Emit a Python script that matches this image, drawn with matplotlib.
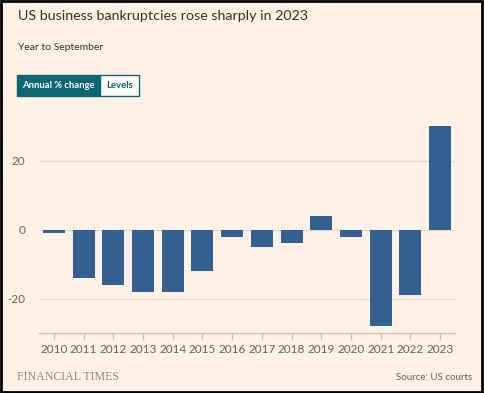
import matplotlib.pyplot as plt
from matplotlib.patches import Rectangle

# data
years = ["2010", "2011", "2012", "2013", "2014", "2015", "2016",
         "2017", "2018", "2019", "2020", "2021", "2022", "2023"]
change = [-1, -14, -16, -18, -18, -12, -2, -5, -4, 4, -2, -28, -19, 30]
yticks = [-20, 0, 20]

plt.rcParams["font.family"] = ["Lato", "DejaVu Sans"]

bg = "#fff1e5"
bar_color = "#336090"
teal = "#0d6670"
text_grey = "#66605c"

fig = plt.figure(figsize=(4.84, 3.93), dpi=100, facecolor=bg)
W, H = 484, 393

def fx(px):
    return px / W

def fy(py):
    return 1 - py / H

ax = fig.add_axes([fx(39), fy(333), fx(455) - fx(39), fy(109) - fy(333)])
ax.set_facecolor(bg)
x = range(len(years))
ax.bar(x, change, width=0.74, color=bar_color, zorder=3)
ax.set_xlim(-0.5, len(years) - 0.5)
ax.set_ylim(-30, 35)
ax.set_yticks(yticks)
ax.set_yticklabels([str(v) for v in yticks])
ax.set_xticks(list(x))
ax.set_xticklabels(years)
for s in ["top", "right", "left"]:
    ax.spines[s].set_visible(False)
ax.spines["bottom"].set_color("#ccc1b7")
ax.spines["bottom"].set_linewidth(1)
ax.tick_params(axis="x", colors="#ccc1b7", length=5, width=1, labelcolor=text_grey,
               labelsize=8.5, pad=3)
ax.tick_params(axis="y", length=0, labelcolor=text_grey, labelsize=8.5, pad=10)
ax.grid(axis="y", color="#e2d9cf", linewidth=1, zorder=0)

# header
fig.text(fx(18), fy(16), "US business bankruptcies rose sharply in 2023",
         fontsize=10.3, color="#33302e", va="center", ha="left")
fig.text(fx(18), fy(48), "Year to September", fontsize=7.5,
         color="#33302e", va="center", ha="left")

# toggle buttons
fig.patches.append(Rectangle((fx(17), fy(96)), fx(100) - fx(17), fy(75) - fy(96),
                             transform=fig.transFigure, facecolor=teal,
                             edgecolor=teal, linewidth=1))
fig.patches.append(Rectangle((fx(100), fy(96)), fx(139) - fx(100), fy(75) - fy(96),
                             transform=fig.transFigure, facecolor="#fffaf5",
                             edgecolor=teal, linewidth=1))
fig.text(fx(58.5), fy(86), "Annual % change", fontsize=6.8, fontweight="bold",
         color="white", ha="center", va="center")
fig.text(fx(119.5), fy(86), "Levels", fontsize=6.8, fontweight="bold", color=teal,
         ha="center", va="center")

# footer
fig.text(fx(17), fy(377), "FINANCIAL TIMES", family="Liberation Serif",
         fontsize=8.6, color="#8f8580", ha="left", va="center")
fig.text(fx(472), fy(378), "Source: US courts", fontsize=7,
         color=text_grey, ha="right", va="center")

# black frame around the image
fig.patches.append(Rectangle((0.002, 0.003), 0.994, 0.994, transform=fig.transFigure,
                             fill=False, edgecolor="black", linewidth=2))

fig.savefig("out.png", dpi=100, facecolor=bg)
